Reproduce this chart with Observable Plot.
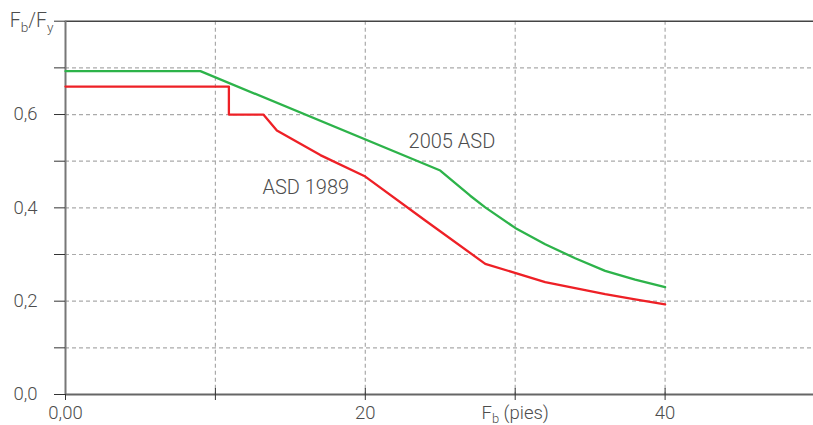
<!DOCTYPE html>
<html>
<head>
<meta charset="utf-8">
<script src="https://cdn.jsdelivr.net/npm/d3@7"></script>
<script src="https://cdn.jsdelivr.net/npm/@observablehq/plot@0.6"></script>
<style>
  html, body { margin: 0; padding: 0; background: #fff; }
  #chart svg { font-family: Roboto, "Liberation Sans", sans-serif; font-weight: 300; }
</style>
</head>
<body>
<div id="chart"></div>
<script>
// Series: 2005 ASD (green)
const asd2005X = [0, 9, 25, 26, 27, 28, 30, 32, 34, 36, 38, 40];
const asd2005Y = [0.693, 0.693, 0.48, 0.453, 0.426, 0.401, 0.357, 0.322, 0.292, 0.265, 0.246, 0.230];
// Series: ASD 1989 (red)
const asd1989X = [0, 10.9, 10.9, 13.2, 14.1, 17, 20, 24, 28, 32, 34, 36, 38, 40];
const asd1989Y = [0.66, 0.66, 0.60, 0.60, 0.566, 0.513, 0.467, 0.373, 0.28, 0.241, 0.228, 0.215, 0.204, 0.193];

// Axis ticks and labels
const xTicks = [0, 10, 20, 30, 40];
const xTickLabels = ["0,00", "", "20", "Fb (pies)", "40"];
const yTicks = [0, 0.1, 0.2, 0.3, 0.4, 0.5, 0.6, 0.7, 0.8];
const yTickLabels = ["0,0", "", "0,2", "", "0,4", "", "0,6", "", ""];
const yGrid = [0.1, 0.2, 0.3, 0.4, 0.5, 0.6, 0.7];
const xGrid = [10, 20, 30, 40];
const yTitle = "Fb/Fy";

// Series labels
const seriesLabels = ["2005 ASD", "ASD 1989"];
const seriesLabelX = [25.78, 16.03];
const seriesLabelY = [0.543, 0.4425];

const green = asd2005X.map((x, i) => ({x, y: asd2005Y[i]}));
const red = asd1989X.map((x, i) => ({x, y: asd1989Y[i]}));
const labels = seriesLabels.map((t, i) => ({t, x: seriesLabelX[i], y: seriesLabelY[i]}));

const chart = Plot.plot({
  width: 813,
  height: 425,
  marginLeft: 65,
  marginRight: 0,
  marginTop: 20.7,
  marginBottom: 31,
  style: {background: "#fff", fontSize: "18px"},
  x: {domain: [0, 49.9]},
  y: {domain: [0, 0.8]},
  marks: [
    Plot.ruleY(yGrid, {stroke: "#aaa", strokeWidth: 1.2, strokeDasharray: "4,3"}),
    Plot.ruleX(xGrid, {stroke: "#aaa", strokeWidth: 1.2, strokeDasharray: "4,3"}),
    Plot.ruleY([0.8], {stroke: "#444", strokeWidth: 1.6}),
    Plot.ruleX([0], {stroke: "#777", strokeWidth: 2}),
    Plot.ruleY([0], {stroke: "#666", strokeWidth: 2}),
    Plot.axisY({
      ticks: yTicks,
      tickSize: 11,
      tickPadding: 17,
      stroke: "#333",
      fill: "#4d4d4d",
      fontSize: 18.5,
      tickFormat: (d) => yTickLabels[yTicks.indexOf(d)],
      label: null
    }),
    Plot.axisX({
      ticks: xTicks,
      tickSize: 6,
      tickPadding: 5,
      stroke: "#333",
      fill: "#4d4d4d",
      fontSize: 18.5,
      tickFormat: (d) => xTickLabels[xTicks.indexOf(d)],
      label: null
    }),
    Plot.ruleX(xGrid, {y1: 0, y2: 0, insetTop: -6, stroke: "#333", strokeWidth: 1}),
    Plot.text([yTitle], {x: 0, y: 0.8, text: (d) => d, textAnchor: "end", dx: -12, fill: "#4d4d4d", fontSize: 19.5}),
    Plot.line(green, {x: "x", y: "y", stroke: "#2db34a", strokeWidth: 2.3}),
    Plot.line(red, {x: "x", y: "y", stroke: "#ee2026", strokeWidth: 2.3}),
    Plot.text(labels, {x: "x", y: "y", text: "t", fill: "#4d4d4d", fontSize: 20})
  ]
});

// Render subscripts as real text with tspans
function subscriptify(el, parts) {
  while (el.firstChild) el.removeChild(el.firstChild);
  let shifted = false;
  for (const [s, sub] of parts) {
    const t = document.createElementNS("http://www.w3.org/2000/svg", "tspan");
    t.textContent = s;
    if (sub) {
      t.setAttribute("font-size", "70%");
      t.setAttribute("dy", "0.3em");
      shifted = true;
    } else if (shifted) {
      t.setAttribute("dy", "-0.21em");
      shifted = false;
    }
    el.appendChild(t);
  }
}
d3.select(chart).selectAll("text").each(function() {
  const s = this.textContent;
  if (s === "Fb/Fy") subscriptify(this, [["F", false], ["b", true], ["/", false], ["F", false], ["y", true]]);
  else if (s === "Fb (pies)") subscriptify(this, [["F", false], ["b", true], [" (pies)", false]]);
});

document.getElementById("chart").appendChild(chart);
</script>
</body>
</html>
